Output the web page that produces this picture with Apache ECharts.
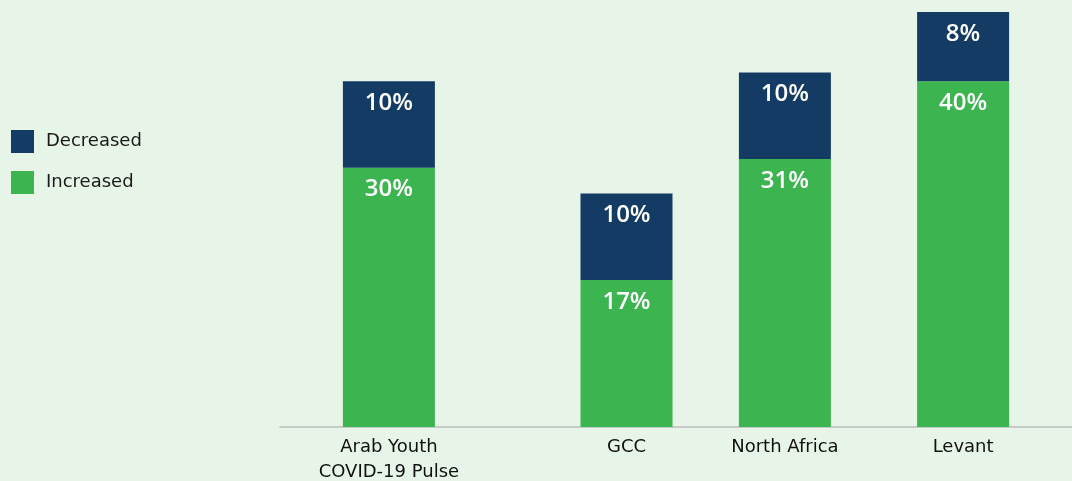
<!DOCTYPE html>
<html>
<head>
<meta charset="utf-8">
<script src="https://cdn.jsdelivr.net/npm/echarts@6/dist/echarts.min.js"></script>
<style>
  html, body { margin: 0; padding: 0; background: #e7f5e8; }
  #chart { width: 1072px; height: 481px; }
</style>
</head>
<body>
<div id="chart"></div>
<script>
// ---- data ----
const categories = ['Arab Youth\nCOVID-19 Pulse', 'GCC', 'North Africa', 'Levant'];
const increased = [30, 17, 31, 40];
const decreased = [10, 10, 10, 8];
const seriesNames = ['Decreased', 'Increased'];

// ---- layout (uneven spacing of the groups on a fine slot grid) ----
const slotCount = 40;
const slotOf = [5, 17, 25, 34];

const axisData = new Array(slotCount).fill('');
const incData = new Array(slotCount).fill('-');
const decData = new Array(slotCount).fill('-');
categories.forEach((c, i) => {
  axisData[slotOf[i]] = c;
  incData[slotOf[i]] = increased[i];
  decData[slotOf[i]] = decreased[i];
});

const FONT = 'DejaVu Sans';
const VFONT = 'Open Sans';
const chart = echarts.init(document.getElementById('chart'), null, { renderer: 'canvas' });
const valueLabel = {
  show: true,
  position: 'insideTop',
  distance: 10,
  color: '#ffffff',
  fontFamily: VFONT,
  fontSize: 24,
  fontWeight: 600,
  formatter: p => p.value + '%'
};
chart.setOption({
  backgroundColor: '#e7f5e8',
  animation: false,
  legend: {
    orient: 'vertical',
    left: 6,
    top: 125,
    itemWidth: 23,
    itemHeight: 23,
    itemGap: 18,
    icon: 'rect',
    data: seriesNames,
    textStyle: { fontFamily: FONT, fontSize: 18, color: '#1a1a1a', padding: [0, 0, 0, 7] }
  },
  grid: { left: 280, right: 0, top: 12, bottom: 54, outerBoundsMode: 'none', containLabel: false },
  xAxis: {
    type: 'category',
    data: axisData,
    boundaryGap: true,
    axisLine: { show: true, lineStyle: { color: '#bdbdbd', width: 1.5 } },
    axisTick: { show: false },
    axisLabel: {
      interval: 0,
      margin: 8,
      fontFamily: FONT,
      fontSize: 18,
      lineHeight: 25,
      color: '#111111'
    }
  },
  yAxis: {
    type: 'value',
    min: 0,
    max: 48,
    show: false,
    splitLine: { show: false }
  },
  series: [
    {
      name: 'Increased',
      type: 'bar',
      stack: 'total',
      barWidth: 92,
      data: incData,
      itemStyle: { color: '#3cb44f' },
      label: valueLabel
    },
    {
      name: 'Decreased',
      type: 'bar',
      stack: 'total',
      barWidth: 92,
      data: decData,
      itemStyle: { color: '#133b63' },
      label: valueLabel
    }
  ]
});
</script>
</body>
</html>
